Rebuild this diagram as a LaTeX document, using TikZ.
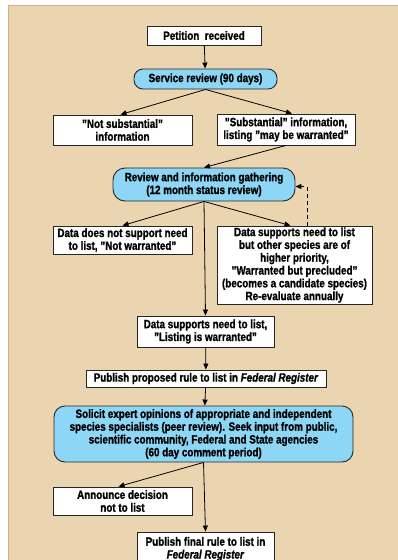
\documentclass[tikz,border=0pt]{standalone}
\usepackage{fontspec}
\setmainfont{Liberation Sans}[FakeStretch=0.82, BoldFeatures={FakeBold=1.2}, BoldItalicFeatures={FakeBold=1.2}]
\usepackage{xcolor}
\usetikzlibrary{arrows.meta, positioning}
\definecolor{fwsbeige}{HTML}{EBD5B0}
\definecolor{fwsedge}{HTML}{D9A990}
\definecolor{fwsblue}{HTML}{8DD6F5}
\definecolor{fwsline}{HTML}{262626}
\tikzset{
  fbox/.style={draw=fwsline, line width=0.9pt, fill=white, align=center, inner sep=1pt, font=\fontsize{12}{12.8}\selectfont\bfseries},
  fround/.style={fbox, fill=fwsblue, rounded corners=9pt},
  fflow/.style={-{Triangle[length=6pt, width=5pt]}, line width=0.8pt, black},
  fdash/.style={fflow, dashed, dash pattern=on 4pt off 3pt},
}

\begin{document}
\begin{tikzpicture}[x=1pt, y=-1pt]
    \useasboundingbox (0,0) rectangle (398,560);
    \fill[white] (0,0) rectangle (398,560);
    \fill[fwsbeige] (8,5) rectangle (398,560);
    \draw[fwsedge, line width=1.2pt] (8.6,560) -- (8.6,5.6) -- (398,5.6);

    \node[fbox, minimum width=114pt, minimum height=19pt] (petition) at (204,35.5) {Petition\ \ received};
    \node[fround, minimum width=143pt, minimum height=20pt] (service) at (205.5,79) {Service review (90 days)};
    \node[fbox, minimum width=139pt, minimum height=30pt] (notsub) at (122.5,130) {"Not substantial"\\information};
    \node[fbox, minimum width=138pt, minimum height=31pt] (subst) at (286,129.5) {"Substantial" information,\\listing "may be warranted"};
    \node[fround, rounded corners=12pt, minimum width=182pt, minimum height=33pt] (review) at (204,184.5) {Review and information gathering\\(12 month status review)};
    \node[fbox, minimum width=139pt, minimum height=28pt] (notwar) at (122.5,240) {Data does not support need\\to list, "Not warranted"};
    \node[fbox, minimum width=155pt, minimum height=78pt] (preclud) at (294.5,265) {Data supports need to list\\but other species are of\\higher priority,\\"Warranted but precluded"\\(becomes a candidate species)\\Re-evaluate annually};
    \node[fbox, minimum width=137pt, minimum height=31pt] (listing) at (205.5,331.5) {Data supports need to list,\\"Listing is warranted"};
    \node[fbox, minimum width=240pt, minimum height=17pt] (proposed) at (206,378.5) {Publish proposed rule to list in \textit{Federal Register}};
    \node[fround, rounded corners=11pt, minimum width=299pt, minimum height=56pt] (solicit) at (203.5,434) {Solicit expert opinions of appropriate and independent\\species specialists (peer review). Seek input from public,\\scientific community, Federal and State agencies\\(60 day comment period)};
    \node[fbox, minimum width=139pt, minimum height=28pt] (announce) at (122.5,501) {Announce decision\\not to list};
    \node[fbox, minimum width=137pt, minimum height=34pt] (final) at (205.5,549) {Publish final rule to list in\\\textit{Federal Register}};

    \draw[fflow] (petition) -- (service);
    \draw[fflow] (service.south) -- ([xshift=-2pt]notsub.north);
    \draw[fflow] (service.south) -- ([xshift=6pt]subst.north);
    \draw[fflow] (subst.south) -- (review.north);
    \draw[fflow] (review.south) -- (notwar.north);
    \draw[fflow] (review.south) -- ([xshift=-4pt]preclud.north);
    \draw[fdash] ([xshift=12.5pt]preclud.north) |- ([yshift=-2pt]review.east);
    \draw[fflow] (review.south) -- (listing.north);
    \draw[fflow] (listing) -- (proposed);
    \draw[fflow] (proposed) -- (solicit);
    \draw[fflow] (solicit.south) -- ([xshift=-4pt]announce.north);
    \draw[fflow] (solicit.south) -- (final.north);
  \end{tikzpicture}
\end{document}
